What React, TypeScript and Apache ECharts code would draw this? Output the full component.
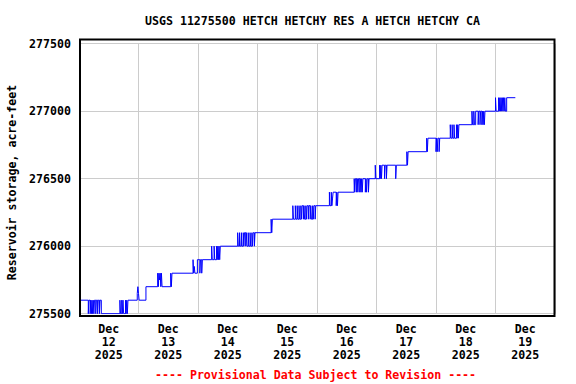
import React, { useEffect, useRef } from "react";
import * as echarts from "echarts";

const chartTitle = "USGS 11275500 HETCH HETCHY RES A HETCH HETCHY CA";
const yAxisTitle = "Reservoir storage, acre-feet";
const footerText = "---- Provisional Data Subject to Revision ----";

// Day labels (each centred on noon of its day)
const dayLabels = [
  "Dec\n12\n2025",
  "Dec\n13\n2025",
  "Dec\n14\n2025",
  "Dec\n15\n2025",
  "Dec\n16\n2025",
  "Dec\n17\n2025",
  "Dec\n18\n2025",
  "Dec\n19\n2025",
];

// Y axis range / tick step (acre-feet)
const yMin = 275500;
const yMax = 277500;
const yStep = 500;

// X axis: hours since Dec 12 2025 00:00
const xMinHours = 0;
const xMaxHours = 192;
const hoursPerDay = 24;

// Storage change points: [hours since Dec 12 00:00, acre-feet]
const dec12: [number, number][] = [
  [0, 275600],
  [3.75, 275500], [4.0, 275600],
  [4.5, 275500], [4.75, 275600], [5.0, 275500], [5.25, 275600], [5.5, 275500], [5.75, 275600], [6.0, 275500], [6.25, 275600],
  [6.75, 275500], [7.0, 275600],
  [7.5, 275500], [7.75, 275600],
  [8.25, 275500], [8.5, 275600],
  [9.0, 275500],
  [16.5, 275600], [16.75, 275500], [17.25, 275600], [17.5, 275500], [17.75, 275600], [18.0, 275500],
  [18.75, 275600], [19.0, 275500], [19.25, 275600], [19.5, 275500], [19.75, 275600],
  [23.5, 275650], [23.75, 275700], [24.0, 275650], [24.25, 275600],
];

const dec13: [number, number][] = [
  [27.0, 275700],
  [31.75, 275800], [32.0, 275700], [32.25, 275800], [32.5, 275750], [32.75, 275800], [33.0, 275700], [33.25, 275800], [33.5, 275700],
  [37.0, 275800], [37.25, 275700], [37.5, 275800],
  [46.0, 275900], [46.25, 275800], [46.5, 275850], [46.75, 275800],
  [47.75, 275900],
];

const dec14: [number, number][] = [
  [48.75, 275800], [49.0, 275900], [49.5, 275800], [49.75, 275900],
  [53.5, 276000], [53.75, 275900], [54.5, 276000], [54.75, 275900], [55.5, 276000], [55.75, 275900],
  [56.0, 276000], [56.25, 275900], [56.5, 276000], [56.75, 275900], [57.0, 276000],
  [64.0, 276100], [64.25, 276000], [64.75, 276100], [65.0, 276000], [65.5, 276100], [65.75, 276000],
  [66.25, 276100], [66.5, 276000], [66.75, 276100], [67.25, 276000], [67.5, 276100], [67.75, 276000],
  [68.25, 276100], [68.5, 276000], [69.0, 276100], [69.25, 276000], [69.75, 276100], [70.0, 276000],
  [70.25, 276100], [70.75, 276000], [71.0, 276100],
];

const dec15: [number, number][] = [
  [77.5, 276200], [77.75, 276100], [78.0, 276200],
  [86.25, 276300], [86.5, 276200], [87.25, 276300], [87.5, 276200], [88.0, 276300], [88.25, 276200],
  [88.75, 276300], [89.0, 276200], [89.5, 276300], [89.75, 276200], [90.0, 276300], [90.5, 276200],
  [90.75, 276300], [91.0, 276200], [91.5, 276300], [91.75, 276200], [92.0, 276300], [92.5, 276200],
  [92.75, 276300], [93.25, 276200], [93.5, 276300], [93.75, 276200], [94.25, 276300], [94.5, 276200],
  [94.75, 276300], [95.25, 276200], [95.5, 276300],
];

const dec16: [number, number][] = [
  [101.0, 276400], [101.25, 276300], [101.75, 276400], [102.0, 276300], [102.25, 276350], [102.5, 276400],
  [103.75, 276300], [104.0, 276400], [104.25, 276300], [104.5, 276400],
  [111.0, 276500], [111.25, 276400], [111.5, 276500], [112.0, 276400], [112.25, 276500], [112.5, 276400],
  [112.75, 276500], [113.25, 276400], [113.5, 276500], [113.75, 276400], [114.0, 276500], [114.25, 276400],
  [114.5, 276500],
  [115.5, 276400], [115.75, 276500], [116.0, 276400], [116.25, 276500], [116.75, 276400], [117.0, 276500],
  [119.5, 276600], [119.75, 276500],
];

const dec17: [number, number][] = [
  [121.25, 276600], [121.5, 276500], [121.75, 276600], [122.0, 276500], [122.25, 276600],
  [123.25, 276500], [123.5, 276600], [124.0, 276500], [124.25, 276600],
  [127.75, 276500], [128.0, 276600],
  [132.25, 276700], [132.5, 276600], [132.75, 276700],
  [140.25, 276800], [140.5, 276700], [140.75, 276800],
];

const dec18: [number, number][] = [
  [144.0, 276700], [144.25, 276800], [144.5, 276700], [144.75, 276800], [145.25, 276700], [145.5, 276800],
  [149.75, 276900], [150.0, 276800], [150.5, 276900], [150.75, 276800], [151.25, 276900], [151.5, 276800],
  [152.25, 276900], [152.5, 276800], [152.75, 276900], [153.0, 276800], [153.25, 276900],
  [158.5, 277000], [158.75, 276900], [159.25, 277000], [159.5, 276900], [160.0, 277000], [161.0, 276900],
  [161.25, 277000], [161.75, 276900], [162.0, 277000], [162.5, 276900], [162.75, 277000], [163.0, 276900],
  [163.25, 277000], [163.5, 276900], [163.75, 277000],
];

const dec19: [number, number][] = [
  [168.0, 277100], [168.25, 277000], [169.25, 277100], [169.5, 277000], [169.75, 277100], [170.0, 277000],
  [170.25, 277100], [170.5, 277000], [170.75, 277100], [171.0, 277000], [171.25, 277100], [171.5, 277000],
  [171.75, 277100], [172.0, 277000], [172.5, 277100],
  [176.0, 277100],
];

const storageSeries = [...dec12, ...dec13, ...dec14, ...dec15, ...dec16, ...dec17, ...dec18, ...dec19];

const FONT = "'DejaVu Sans Mono', 'Liberation Mono', monospace";

export default function App() {
  const ref = useRef<HTMLDivElement>(null);

  useEffect(() => {
    if (!ref.current) return;
    const chart = echarts.init(ref.current, null, { renderer: "svg" });
    const option: any = {
      animation: false,
      backgroundColor: "#ffffff",
      title: [
        {
          text: chartTitle,
          left: 145,
          top: 14,
          padding: 0,
          textStyle: { fontFamily: FONT, fontSize: 11.6, fontWeight: "bold", color: "#000", lineHeight: 13 },
        },
        {
          text: footerText,
          left: 155,
          top: 368,
          padding: 0,
          textStyle: { fontFamily: FONT, fontSize: 11.6, fontWeight: "bold", color: "#ff0000", lineHeight: 13 },
        },
      ],
      grid: { left: 79, top: 43.7, width: 476, height: 270, containLabel: false },
      xAxis: [
        {
          type: "value",
          position: "top",
          min: xMinHours,
          max: xMaxHours,
          interval: hoursPerDay,
          axisLine: { show: false },
          axisTick: { show: false },
          axisLabel: { show: false },
          splitLine: { show: true, lineStyle: { color: "#cccccc", width: 1 } },
        },
        {
          type: "category",
          position: "bottom",
          data: dayLabels,
          boundaryGap: true,
          axisLine: { show: false },
          axisTick: { show: false },
          splitLine: { show: false },
          axisLabel: {
            interval: 0,
            margin: 9,
            fontFamily: FONT,
            fontSize: 11.6,
            fontWeight: "bold",
            color: "#000",
            lineHeight: 13,
          },
        },
      ],
      yAxis: {
        type: "value",
        min: yMin,
        max: yMax,
        interval: yStep,
        axisLine: { show: false },
        axisTick: { show: false },
        axisLabel: {
          margin: 8,
          fontFamily: FONT,
          fontSize: 11.6,
          fontWeight: "bold",
          color: "#000",
          formatter: (v: number) => String(v),
        },
        splitLine: { show: true, showMinLine: true, showMaxLine: true, lineStyle: { color: "#cccccc", width: 1 } },
      },
      graphic: [
        {
          type: "rect",
          shape: { x: 80, y: 39.5, width: 474.5, height: 276.5 },
          style: { fill: "none", stroke: "#000", lineWidth: 2 },
          z: 100,
          silent: true,
        },
        {
          type: "text",
          x: 12,
          y: 182.5,
          rotation: Math.PI / 2,
          style: {
            text: yAxisTitle,
            align: "center",
            verticalAlign: "middle",
            fontFamily: FONT,
            fontSize: 11.6,
            fontWeight: "bold",
            fill: "#000",
          },
          silent: true,
        },
      ],
      series: [
        {
          type: "line",
          xAxisIndex: 0,
          yAxisIndex: 0,
          step: "end",
          showSymbol: false,
          symbol: "none",
          data: storageSeries,
          lineStyle: { color: "#0000ff", width: 1 },
          z: 10,
        },
      ],
    };
    chart.setOption(option);
    return () => chart.dispose();
  }, []);

  return (
    <div
      ref={ref}
      style={{ position: "fixed", left: 0, top: 0, width: 576, height: 384, background: "#fff" }}
    />
  );
}
